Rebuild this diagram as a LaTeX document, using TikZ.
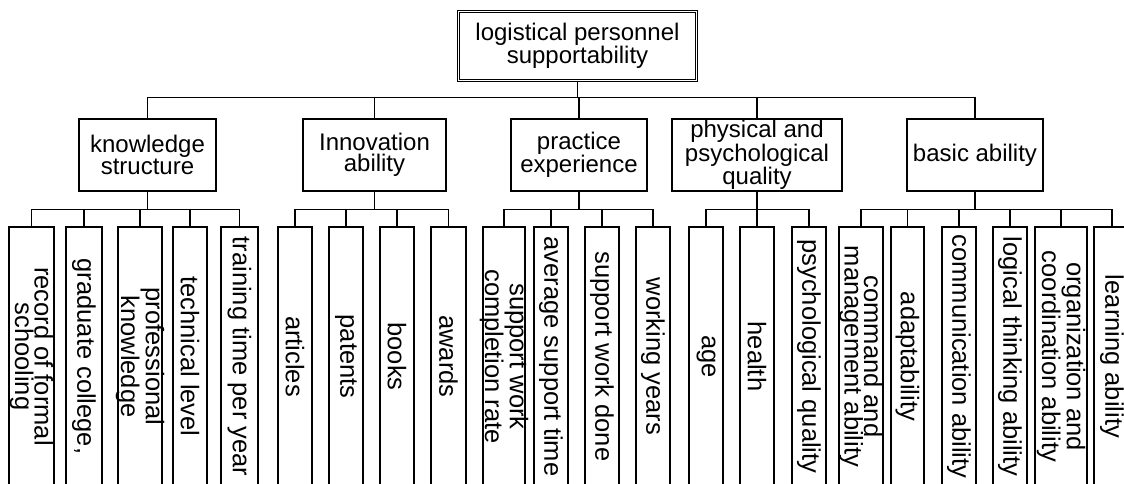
\documentclass[tikz,border=0pt]{standalone}
\usepackage{fontspec}
\setmainfont{Liberation Sans}
\usetikzlibrary{calc}
\newcommand\leafnode[4]{%
  \node[leafbox, minimum width={#3-#2}] (#1) at ({(#2+#3)/2},356.5) {};
  \node[leaftext] (#1t) at (#1.center) {#4};}
\begin{document}
\begin{tikzpicture}[x=1pt,y=-1pt,line width=1.1pt,
  topbox/.style={draw, double, double distance=1.9pt, line width=0.9pt, inner sep=0pt,
    minimum width=238pt, minimum height=69pt, align=center,
    font=\fontsize{24}{21}\selectfont},
  midbox/.style={draw, inner sep=0pt, minimum height=72pt, align=center,
    font=\fontsize{24}{21.5}\selectfont},
  leafbox/.style={draw, inner sep=0pt, minimum height=259pt},
  leaftext/.style={rotate=-90, inner sep=0pt, align=center,
    font=\fontsize{25.5}{19.5}\selectfont},
  conn/.style={line width=1.1pt}]
\clip (0,0) rectangle (1124,484);
% root
\node[topbox] (root) at (577.5,46) {logistical personnel\\supportability};
% level 2
\node[midbox, minimum width=137pt] (ks) at (147.5,155) {knowledge\\structure};
\node[midbox, minimum width=143pt] (ia) at (374.5,155) {Innovation\\ability};
\node[midbox, minimum width=136pt] (pe) at (579,155) {practice\\experience};
\node[midbox, minimum width=170pt] (pq) at (757,155) {physical and\\psychological\\quality};
\node[midbox, minimum width=136pt] (ba) at (975,155) {basic ability};
% leaves
\leafnode{k1}{9}{54}{record of formal\\schooling}
\leafnode{k2}{66}{102}{graduate college,}
\leafnode{k3}{118}{162}{professional\\knowledge}
\leafnode{k4}{173}{207}{technical level}
\leafnode{k5}{221}{258}{training time per year}
\leafnode{i1}{278}{312}{articles}
\leafnode{i2}{329}{363}{patents}
\leafnode{i3}{380}{414}{books}
\leafnode{i4}{431}{466}{awards}
\leafnode{p1}{483}{525}{support work\\completion rate}
\leafnode{p2}{534}{568}{average support time}
\leafnode{p3}{585}{619}{support work done}
\leafnode{p4}{636}{670}{working years}
\leafnode{q1}{689}{723}{age}
\leafnode{q2}{740}{774}{health}
\leafnode{q3}{792}{826}{psychological quality}
\leafnode{b1}{839}{883}{command and\\management ability}
\leafnode{b2}{891}{924}{adaptability}
\leafnode{b3}{942}{976}{communication ability}
\leafnode{b4}{993}{1027}{logical thinking ability}
\leafnode{b5}{1035}{1087}{organization and\\coordination ability}
\leafnode{b6}{1094}{1130}{learning ability}
% buses
\coordinate (b0) at ($(root.south)+(0,16.5)$);
\coordinate (bks) at ($(ks.south)+(0,18)$);
\coordinate (bia) at ($(ia.south)+(0,18)$);
\coordinate (bpe) at ($(pe.south)+(0,18)$);
\coordinate (bpq) at ($(pq.south)+(0,18)$);
\coordinate (bba) at ($(ba.south)+(0,18)$);
% connectors
\draw[conn] (root.south) -- (b0);
\foreach \c in {ks,ia,pe,pq,ba} \draw[conn] (b0) -| (\c.north);
\draw[conn] (ks.south) -- (bks);
\foreach \c in {k1,k2,k3,k4,k5} \draw[conn] (bks) -| (\c.north);
\draw[conn] (ia.south) -- (bia);
\foreach \c in {i1,i2,i3,i4} \draw[conn] (bia) -| (\c.north);
\draw[conn] (pe.south) -- (bpe);
\foreach \c in {p1,p2,p3,p4} \draw[conn] (bpe) -| (\c.north);
\draw[conn] (pq.south) -- (bpq);
\foreach \c in {q1,q2,q3} \draw[conn] (bpq) -| (\c.north);
\draw[conn] (ba.south) -- (bba);
\foreach \c in {b1,b2,b3,b4,b5,b6} \draw[conn] (bba) -| (\c.north);
\end{tikzpicture}
\end{document}
